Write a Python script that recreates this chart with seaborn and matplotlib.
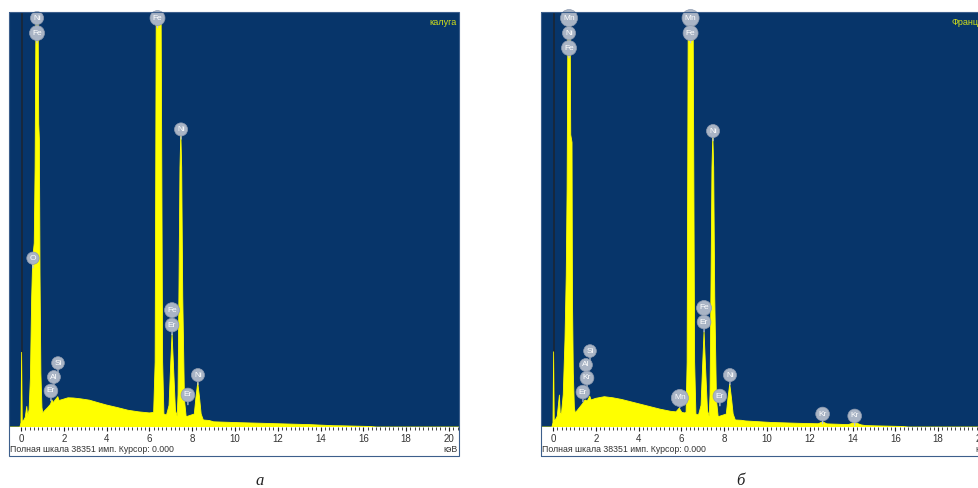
import numpy as np
import pandas as pd
import seaborn as sns
import matplotlib.pyplot as plt
from matplotlib.patches import Rectangle

# EDS spectra: energy (keV) and counts
energy_a = [-0.6, -0.05, 0.0, 0.03, 0.06, 0.12, 0.2, 0.27, 0.31, 0.38, 0.44, 0.5, 0.55,
            0.62, 0.66, 0.7, 0.73, 0.77, 0.8, 0.83, 0.86, 0.89, 0.93, 0.98, 1.02,
            1.1, 1.25, 1.38, 1.45, 1.5, 1.6, 1.72, 1.78, 1.95, 2.2, 2.45, 2.8, 3.2,
            3.6, 4.0, 4.5, 5.0, 5.5, 6.0, 6.2, 6.27, 6.32, 6.35, 6.52, 6.55, 6.62,
            6.68, 6.8, 6.92, 7.0, 7.06, 7.12, 7.22, 7.3, 7.34, 7.38, 7.43, 7.47,
            7.51, 7.56, 7.64, 7.72, 8.1, 8.18, 8.26, 8.34, 8.42, 8.52, 8.8, 9.0,
            10.2, 11.5, 12.4, 13.5, 14.6, 15.0, 16.3, 16.6, 20.6]
counts_a = [0, 0, 400, 6900, 500, 600, 900, 1900, 1000, 1600, 4500, 12000, 15600,
            17000, 24000, 38000, 90000, 90000, 38000, 28000, 26600, 14000, 5000, 1800, 1300,
            1500, 1800, 2100, 2500, 2250, 2500, 2800, 2450, 2550, 2700, 2680, 2600, 2480,
            2250, 2030, 1800, 1550, 1400, 1300, 1350, 6000, 38000, 100000, 100000, 38000, 6000,
            1200, 1100, 2000, 6000, 8600, 6000, 1500, 1000, 3000, 12000, 24000, 27200,
            24000, 12000, 2500, 950, 1200, 2800, 4100, 2800, 1200, 650, 600, 480,
            400, 330, 280, 220, 120, 110, 50, 0, 0]

energy_b = [-0.6, -0.05, 0.0, 0.03, 0.06, 0.12, 0.2, 0.3, 0.34, 0.4, 0.48, 0.56, 0.62,
            0.66, 0.7, 0.73, 0.77, 0.8, 0.83, 0.89, 0.91, 0.95, 1.0, 1.04,
            1.2, 1.4, 1.5, 1.6, 1.72, 1.78, 2.0, 2.4, 2.8, 3.2, 3.6, 4.0, 4.5, 5.0,
            5.5, 5.75, 5.9, 6.02, 6.15, 6.22, 6.27, 6.32, 6.35, 6.52, 6.55, 6.62,
            6.68, 6.8, 6.92, 7.0, 7.06, 7.12, 7.22, 7.3, 7.34, 7.38, 7.43, 7.47,
            7.51, 7.56, 7.64, 7.72, 8.1, 8.18, 8.26, 8.34, 8.42, 8.52, 8.8, 9.0,
            10.2, 11.5, 12.4, 12.6, 12.8, 13.8, 14.1, 14.4, 14.6, 15.0, 16.3, 16.6, 20.6]
counts_b = [0, 0, 400, 6950, 500, 700, 1000, 2950, 1200, 1300, 3000, 8000, 14000,
            22000, 38000, 90000, 90000, 38000, 27000, 26300, 12000, 5000, 1800, 1300,
            1700, 2200, 2500, 2400, 2850, 2500, 2650, 2800, 2700, 2550, 2350, 2150, 1900, 1650,
            1450, 1400, 1750, 1350, 1300, 1350, 6000, 38000, 100000, 100000, 38000, 6000,
            1200, 1100, 2000, 6000, 8800, 6000, 1500, 1000, 3000, 12000, 24000, 27000,
            24000, 12000, 2500, 950, 1200, 2700, 3970, 2700, 1200, 650, 620, 560,
            420, 340, 300, 480, 290, 220, 420, 200, 130, 110, 50, 0, 0]

# element markers: (symbol, energy keV, label height in counts)
labels_a = [("Ni", 0.75, 37790), ("Fe", 0.75, 36400), ("Fe", 6.38, 37790),
            ("Ni", 7.48, 27500), ("O", 0.56, 15600), ("Fe", 7.06, 10800),
            ("Er", 7.06, 9420), ("Si", 1.73, 5910), ("Al", 1.54, 4620),
            ("Er", 1.40, 3330), ("Ni", 8.27, 4800), ("Er", 7.80, 2960)]
labels_b = [("Mn", 0.75, 37790), ("Ni", 0.75, 36400), ("Fe", 0.75, 35020),
            ("Mn", 6.43, 37790), ("Fe", 6.43, 36400), ("Ni", 7.48, 27350),
            ("Fe", 7.06, 11000), ("Er", 7.06, 9700), ("Si", 1.73, 7020),
            ("Al", 1.54, 5730), ("Kr", 1.59, 4530), ("Er", 1.40, 3230),
            ("Mn", 5.93, 2680), ("Er", 7.80, 2860), ("Ni", 8.27, 4800),
            ("Kr", 12.6, 1200), ("Kr", 14.1, 1020)]

sample_names = ["калуга", "Франция"]
captions = ["а", "б"]
full_scale = 38351

sns.set_theme(style="white")
plt.rcParams['font.family'] = ['Liberation Sans', 'DejaVu Sans']

W, H = 979, 488
fig = plt.figure(figsize=(W / 100, H / 100), dpi=100)
fig.patch.set_facecolor('white')

bg = '#07356a'
edge = '#3d5f8c'


def fx(px):
    return px / W


def fy(py):
    return 1 - py / H


def draw_panel(x0, energy, counts, labels, name, caption, cap_x):
    ax = fig.add_axes([fx(x0), fy(427), 450 / W, 415 / H])
    df = pd.DataFrame({'keV': energy, 'counts': counts})
    ax.set_facecolor(bg)
    ax.fill_between(df['keV'], 0, df['counts'], color='#ffff00', lw=0, zorder=2)
    sns.lineplot(data=df, x='keV', y='counts', ax=ax, color='#ffff00', lw=0.6,
                 estimator=None, sort=False, zorder=3)
    ax.axvline(0.04, color='#1c2530', lw=1.1, zorder=1)
    ax.set_xlim(-0.56, 20.47)
    ax.set_ylim(0, full_scale)
    ax.set_xlabel('')
    ax.set_ylabel('')
    ax.set_yticks([])
    ax.set_xticks(range(0, 21, 2))
    ax.set_xticks(np.arange(0, 20.5, 0.2), minor=True)
    ax.tick_params(axis='x', which='major', bottom=True, direction='out', length=3,
                   width=0.8, color='#222222', labelsize=7, labelcolor='#333333', pad=2)
    ax.tick_params(axis='x', which='minor', bottom=True, direction='out', length=2,
                   width=0.6, color='#222222')
    for s in ax.spines.values():
        s.set_visible(False)

    for sym, e, c in labels:
        ax.annotate('', xy=(e, c), xytext=(0, -9), textcoords='offset points',
                    arrowprops=dict(arrowstyle='-', color='#c0c8d4', lw=0.9), zorder=4)
        ax.text(e, c, sym, ha='center', va='center', fontsize=6, color='white',
                zorder=5, bbox=dict(boxstyle='circle,pad=0.32', fc='#a9b4c5',
                                    ec='#8e9bb0', lw=0.5))

    ax.text(0.995, 0.985, name, transform=ax.transAxes, ha='right', va='top',
            fontsize=6.5, color='#d2e01a')

    # frame around the whole instrument panel
    fig.patches.append(Rectangle((fx(x0), fy(456)), 450 / W, (456 - 12) / H,
                                 transform=fig.transFigure, fill=False,
                                 ec=edge, lw=0.8))
    fig.text(fx(x0 + 1), fy(450), 'Полная шкала 38351 имп. Курсор: 0.000',
             fontsize=6.3, color='#333333', va='center', ha='left')
    fig.text(fx(x0 + 449), fy(450), 'кэВ', fontsize=6.3, color='#333333',
             va='center', ha='right')
    fig.text(fx(cap_x), fy(481), caption, fontsize=12, style='italic',
             family='Liberation Serif', color='#222222', ha='center', va='center')
    return ax


draw_panel(9, energy_a, counts_a, labels_a, sample_names[0], captions[0], 260)
draw_panel(541, energy_b, counts_b, labels_b, sample_names[1], captions[1], 740)

fig.savefig('out.png', dpi=100)
